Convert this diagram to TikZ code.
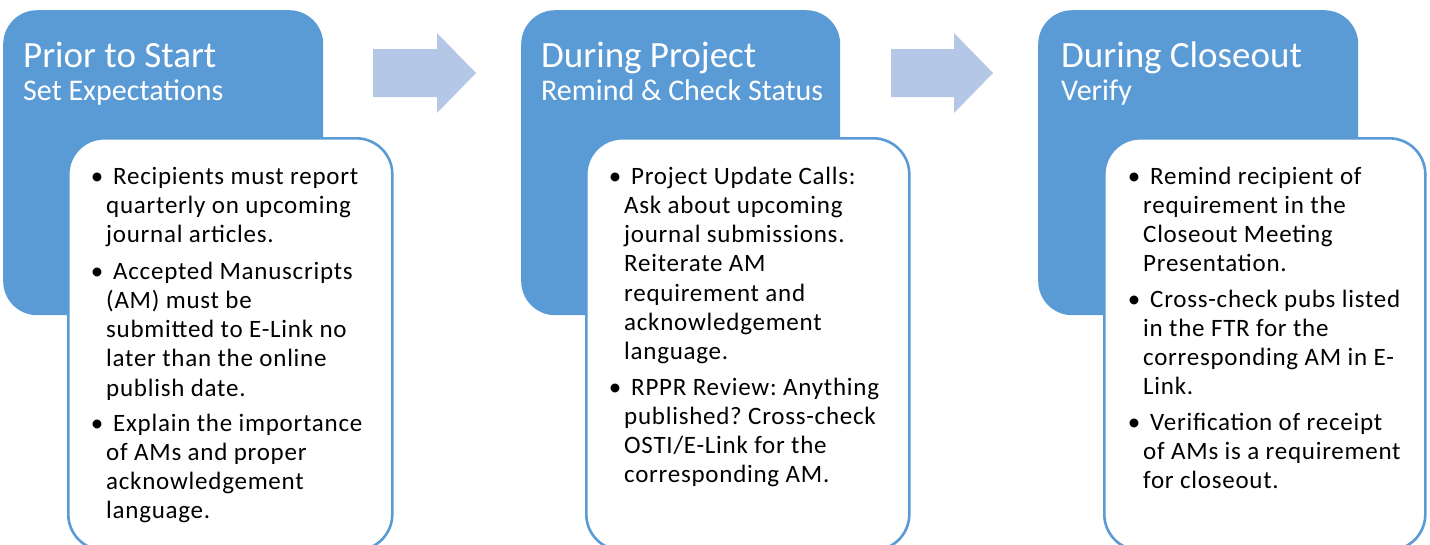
\documentclass[tikz,border=0pt]{standalone}
\usepackage{fontspec}
\setmainfont{Carlito}
\newfontfamily\bodyfont{Carlito}[LetterSpace=3]
\definecolor{phase}{HTML}{5B9BD5}
\definecolor{flow}{HTML}{B4C7E7}
\frenchspacing
\newcommand\bul{\leavevmode\llap{\textbullet\hspace{3pt}}\hspace*{7pt}}
\newcommand\itemlines[1]{\parbox[t]{330pt}{\raggedright\frenchspacing #1}}
\begin{document}
\begin{tikzpicture}[x=1pt,y=-1pt,
  phasebox/.style={fill=phase, rounded corners=34pt, anchor=north west, inner sep=0pt, minimum height=305pt},
  detailbox/.style={fill=white, draw=phase, line width=2.6pt, rounded corners=36pt, anchor=north west, inner sep=0pt, minimum height=412pt},
  ttl/.style={text=white, anchor=base west, inner sep=0pt, font=\fontsize{37}{40}\selectfont},
  subttl/.style={text=white, anchor=base west, inner sep=0pt, font=\fontsize{30}{34}\selectfont},
  body/.style={anchor=base west, inner sep=0pt, font=\bodyfont\fontsize{25}{29.3}\selectfont},
  flowarrow/.style={fill=flow}]
\clip (0,0) rectangle (1430,544);
\fill[white] (0,0) rectangle (1430,544);

% phase 1
\node[phasebox, minimum width=320pt] (p1) at (3,10) {};
\node[detailbox, minimum width=324pt] (d1) at (67,137) {};
\node[ttl] (h1) at (23,67) {Prior to Start};
\node[subttl] (s1) at (23,100) {Set Expectations};
\node[body] (b1a) at (106,184) {\itemlines{\bul Recipients must report\\quarterly on upcoming\\journal articles.}};
\node[body] (b1b) at (106,279) {\itemlines{\bul Accepted Manuscripts\\(AM) must be\\submitted to E-Link no\\later than the online\\publish date.}};
\node[body] (b1c) at (106,431) {\itemlines{\bul Explain the importance\\of AMs and proper\\acknowledgement\\language.}};

% arrow 1
\fill[flowarrow] (373,49) -- (437,49) -- (437,33) -- (476,73) -- (437,113) -- (437,97) -- (373,97) -- cycle;

% phase 2
\node[phasebox, minimum width=319pt] (p2) at (521,10) {};
\node[detailbox, minimum width=323pt] (d2) at (585,137) {};
\node[ttl] (h2) at (541,67) {During Project};
\node[subttl] (s2) at (541,100) {Remind \& Check Status};
\node[body] (b2a) at (624,184) {\itemlines{\bul Project Update Calls:\\Ask about upcoming\\journal submissions.\\Reiterate AM\\requirement and\\acknowledgement\\language.}};
\node[body] (b2b) at (624,395) {\itemlines{\bul RPPR Review: Anything\\published? Cross-check\\OSTI/E-Link for the\\corresponding AM.}};

% arrow 2
\fill[flowarrow] (891,49) -- (954,49) -- (954,33) -- (993,73) -- (954,113) -- (954,97) -- (891,97) -- cycle;

% phase 3
\node[phasebox, minimum width=320pt] (p3) at (1038,10) {};
\node[detailbox, minimum width=321pt] (d3) at (1103,137) {};
\node[ttl] (h3) at (1061,67) {During Closeout};
\node[subttl] (s3) at (1061,100) {Verify};
\node[body] (b3a) at (1143,184) {\itemlines{\bul Remind recipient of\\requirement in the\\Closeout Meeting\\Presentation.}};
\node[body] (b3b) at (1143,307) {\itemlines{\bul Cross-check pubs listed\\in the FTR for the\\corresponding AM in E-\\Link.}};
\node[body] (b3c) at (1143,430) {\itemlines{\bul Verification of receipt\\of AMs is a requirement\\for closeout.}};
\end{tikzpicture}
\end{document}
